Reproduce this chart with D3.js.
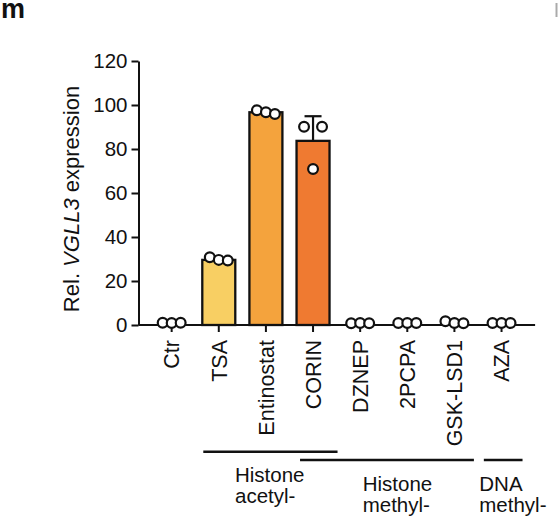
<!DOCTYPE html>
<html lang="en">
<head>
	<meta charset="utf-8">
	<title>VGLL3 expression</title>
	<script src="https://d3js.org/d3.v7.min.js"></script>
	<style>
		body { margin: 0; background: #fff; }
		svg { display: block; }
		text { font-family: "Liberation Sans", Arial, sans-serif; fill: #111; }
		.axis path, .axis line { stroke: #111; stroke-width: 2; }
	</style>
</head>
<body>
	<script type="text/javascript">
		// categories and values
		var treatments = ["Ctr", "TSA", "Entinostat", "CORIN", "DZNEP", "2PCPA", "GSK-LSD1", "AZA"];
		var means = [1.0, 29.6, 96.7, 83.7, 0.9, 0.9, 1.1, 0.9];
		var sds = [0.1, 0.8, 0.7, 11.2, 0.1, 0.1, 0.4, 0.1];
		var reps = [
			[1.0, 0.9, 1.0],
			[30.8, 29.6, 29.3],
			[97.6, 96.7, 95.9],
			[90.1, 70.9, 90.1],
			[0.8, 0.9, 0.8],
			[0.9, 0.9, 0.9],
			[1.7, 0.9, 0.8],
			[0.9, 0.9, 0.9]
		];
		var barColors = ["#ffffff", "#f8cf63", "#f4a33d", "#ef7a31", "#ffffff", "#ffffff", "#ffffff", "#ffffff"];
		var yTicks = [0, 20, 40, 60, 80, 100, 120];

		var groupNames = [["Histone", "acetyl-"], ["Histone", "methyl-"], ["DNA", "methyl-"]];
		var groupFrom = ["TSA", "CORIN", "AZA"];
		var groupTo = ["CORIN", "GSK-LSD1", "AZA"];

		var width = 558, height = 517;

		var svg = d3.select("body").append("svg")
			.attr("width", width)
			.attr("height", height);

		var x = d3.scaleBand()
			.domain(treatments)
			.range([148.1, 525.1])
			.paddingInner(0.3)
			.paddingOuter(0.15);

		var y = d3.scaleLinear()
			.domain([0, 120])
			.range([325, 61]);

		var cx = function(d) { return x(d) + x.bandwidth() / 2; };

		// panel letter, and the edge of the next panel's letter
		svg.append("text")
			.attr("x", 1).attr("y", 18)
			.attr("font-size", 27).attr("font-weight", "bold")
			.text("m");
		svg.append("line")
			.attr("x1", 556.5).attr("x2", 556.5)
			.attr("y1", 3).attr("y2", 17)
			.attr("stroke", "#aaa").attr("stroke-width", 2);

		// y axis
		var yAxis = svg.append("g")
			.attr("class", "axis")
			.attr("transform", "translate(138.5,0)")
			.call(d3.axisLeft(y).tickValues(yTicks).tickSize(7).tickSizeOuter(0).tickPadding(4));
		yAxis.selectAll("text").attr("font-size", 20.5).style("font-family", "Liberation Sans, Arial, sans-serif");

		// y title
		var ttl = svg.append("text")
			.attr("transform", "translate(79,199) rotate(-90)")
			.attr("text-anchor", "middle")
			.attr("font-size", 22);
		ttl.append("tspan").text("Rel. ");
		ttl.append("tspan").attr("font-style", "italic").text("VGLL3");
		ttl.append("tspan").text(" expression");

		// bars
		svg.append("g")
			.selectAll("rect")
			.data(treatments)
			.enter().append("rect")
			.attr("x", function(d) { return x(d); })
			.attr("width", x.bandwidth())
			.attr("y", function(d, i) { return y(means[i]); })
			.attr("height", function(d, i) { return y(0) - y(means[i]); })
			.attr("fill", function(d, i) { return barColors[i]; })
			.attr("stroke", function(d, i) { return means[i] > 5 ? "#111" : "none"; })
			.attr("stroke-width", 2.3);

		// error bars (upper side only)
		var err = svg.append("g").attr("stroke", "#111").attr("stroke-width", 2.2);
		treatments.forEach(function(d, i) {
			if (sds[i] < 3) return;
			err.append("line")
				.attr("x1", cx(d)).attr("x2", cx(d))
				.attr("y1", y(means[i])).attr("y2", y(means[i] + sds[i]));
			err.append("line")
				.attr("x1", cx(d) - 8.5).attr("x2", cx(d) + 8.5)
				.attr("y1", y(means[i] + sds[i])).attr("y2", y(means[i] + sds[i]));
		});

		// x axis
		var xAxis = svg.append("g")
			.attr("class", "axis")
			.attr("transform", "translate(0," + y(0) + ")")
			.call(d3.axisBottom(x).tickSize(7).tickSizeOuter(0));
		xAxis.select(".domain").remove();
		xAxis.append("line")
			.attr("x1", 138.5).attr("x2", x.range()[1] + 10)
			.attr("y1", 0).attr("y2", 0);
		xAxis.selectAll(".tick text")
			.attr("font-size", 21.5)
			.style("font-family", "Liberation Sans, Arial, sans-serif")
			.attr("transform", "rotate(-90)")
			.attr("text-anchor", "end")
			.attr("x", -15)
			.attr("y", 0)
			.attr("dy", "0.36em");

		// replicate points
		var offs = [-9, 0, 9];
		var pts = svg.append("g");
		treatments.forEach(function(d, i) {
			pts.selectAll(null)
				.data(reps[i])
				.enter().append("circle")
				.attr("cx", function(v, j) { return cx(d) + offs[j]; })
				.attr("cy", function(v) { return y(v); })
				.attr("r", 4.9)
				.attr("fill", "#fff")
				.attr("stroke", "#111")
				.attr("stroke-width", 2.2);
		});

		// class brackets
		var startOff = [-15.5, -13, -17.7];
		var endOff = [24.5, 19.5, 21];
		var lineY = [451.7, 460, 460];
		var textX = [235, 362.7, 479.3];
		var textY = [481.7, 490.7, 490.7];
		groupNames.forEach(function(g, i) {
			svg.append("line")
				.attr("x1", cx(groupFrom[i]) + startOff[i])
				.attr("x2", cx(groupTo[i]) + endOff[i])
				.attr("y1", lineY[i]).attr("y2", lineY[i])
				.attr("stroke", "#111").attr("stroke-width", 2.5);
			g.forEach(function(t, k) {
				svg.append("text")
					.attr("x", textX[i])
					.attr("y", textY[i] + k * 21.5)
					.attr("font-size", 20.5)
					.text(t);
			});
		});
	</script>
</body>
</html>
